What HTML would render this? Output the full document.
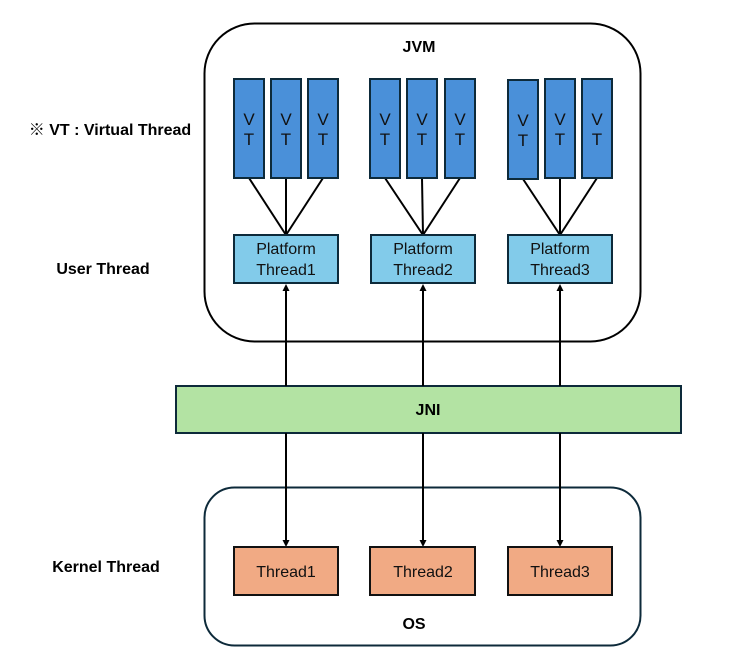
<!DOCTYPE html>
<html><head><meta charset="utf-8"><style>
html,body{margin:0;padding:0;background:#fff;}
svg{display:block;font-family:"Liberation Sans","Noto Sans CJK JP",sans-serif;}
</style></head><body>
<svg width="731" height="661" viewBox="0 0 731 661" xmlns="http://www.w3.org/2000/svg">
<rect x="204.5" y="23.5" width="436" height="318" rx="50" fill="#fff" stroke="#000" stroke-width="2"/>
<rect x="204.5" y="487.5" width="436" height="158" rx="30" fill="#fff" stroke="#0d2a3a" stroke-width="2"/>
<text x="419" y="52" font-size="16" font-weight="bold" text-anchor="middle">JVM</text>
<text x="414" y="629" font-size="16" font-weight="bold" text-anchor="middle">OS</text>
<text x="110" y="135" font-size="16" font-weight="bold" text-anchor="middle">※ VT : Virtual Thread</text>
<text x="103" y="274" font-size="16" font-weight="bold" text-anchor="middle">User Thread</text>
<text x="106" y="572" font-size="16" font-weight="bold" text-anchor="middle">Kernel Thread</text>
<g stroke="#000" stroke-width="2">
<line x1="249" y1="178" x2="286" y2="235"/><line x1="286" y1="178" x2="286" y2="235"/><line x1="323" y1="178" x2="286" y2="235"/>
<line x1="385" y1="178" x2="423" y2="235"/><line x1="422" y1="178" x2="423" y2="235"/><line x1="460" y1="178" x2="423" y2="235"/>
<line x1="523" y1="179" x2="560" y2="235"/><line x1="560" y1="178" x2="560" y2="235"/><line x1="597" y1="178" x2="560" y2="235"/>
</g>
<g fill="#4a90d9" stroke="#0d2a3a" stroke-width="2">
<rect x="234" y="79" width="30" height="99"/><rect x="271" y="79" width="30" height="99"/><rect x="308" y="79" width="30" height="99"/>
<rect x="370" y="79" width="30" height="99"/><rect x="407" y="79" width="30" height="99"/><rect x="445" y="79" width="30" height="99"/>
<rect x="508" y="80" width="30" height="99"/><rect x="545" y="79" width="30" height="99"/><rect x="582" y="79" width="30" height="99"/>
</g>
<g font-size="17" text-anchor="middle" fill="#111">
<text x="249" y="125">V</text><text x="249" y="145">T</text>
<text x="286" y="125">V</text><text x="286" y="145">T</text>
<text x="323" y="125">V</text><text x="323" y="145">T</text>
<text x="385" y="125">V</text><text x="385" y="145">T</text>
<text x="422" y="125">V</text><text x="422" y="145">T</text>
<text x="460" y="125">V</text><text x="460" y="145">T</text>
<text x="523" y="126">V</text><text x="523" y="146">T</text>
<text x="560" y="125">V</text><text x="560" y="145">T</text>
<text x="597" y="125">V</text><text x="597" y="145">T</text>
</g>
<g fill="#82cbea" stroke="#0d2a3a" stroke-width="2">
<rect x="234" y="235" width="104" height="48"/><rect x="371" y="235" width="104" height="48"/><rect x="508" y="235" width="104" height="48"/>
</g>
<g font-size="16" text-anchor="middle" fill="#111">
<text x="286" y="254">Platform</text><text x="286" y="275">Thread1</text>
<text x="423" y="254">Platform</text><text x="423" y="275">Thread2</text>
<text x="560" y="254">Platform</text><text x="560" y="275">Thread3</text>
</g>
<rect x="176" y="386" width="505" height="47" fill="#b3e3a3" stroke="#0d2a3a" stroke-width="2"/>
<text x="428" y="415" font-size="16" font-weight="bold" text-anchor="middle">JNI</text>
<g stroke="#000" stroke-width="2">
<line x1="286" y1="386" x2="286" y2="290"/><line x1="423" y1="386" x2="423" y2="290"/><line x1="560" y1="386" x2="560" y2="290"/>
<line x1="286" y1="433" x2="286" y2="541"/><line x1="423" y1="433" x2="423" y2="541"/><line x1="560" y1="433" x2="560" y2="541"/>
</g>
<g fill="#000">
<path d="M282.5,291 L286,284 L289.5,291Z"/><path d="M419.5,291 L423,284 L426.5,291Z"/><path d="M556.5,291 L560,284 L563.5,291Z"/>
<path d="M282.5,540 L286,547 L289.5,540Z"/><path d="M419.5,540 L423,547 L426.5,540Z"/><path d="M556.5,540 L560,547 L563.5,540Z"/>
</g>
<g fill="#f1aa84" stroke="#111" stroke-width="2">
<rect x="234" y="547" width="104" height="48"/><rect x="370" y="547" width="105" height="48"/><rect x="508" y="547" width="104" height="48"/>
</g>
<g font-size="16" text-anchor="middle" fill="#111">
<text x="286" y="577">Thread1</text><text x="423" y="577">Thread2</text><text x="560" y="577">Thread3</text>
</g>
</svg>
</body></html>
